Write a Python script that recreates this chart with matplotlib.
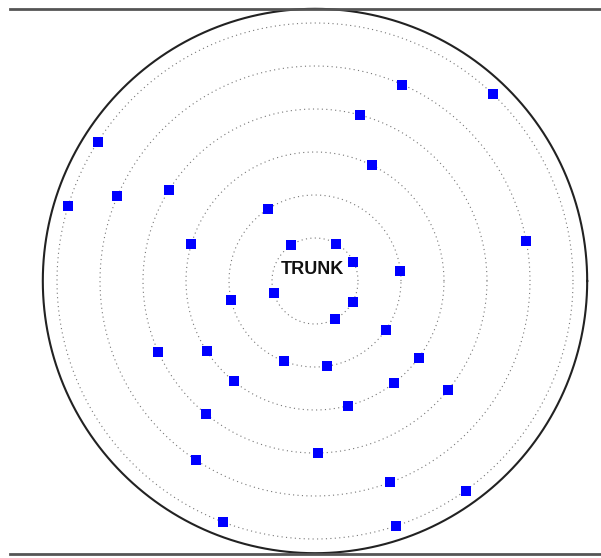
import numpy as np
import matplotlib
matplotlib.use('Agg')
import matplotlib.pyplot as plt

# ring index (1 = trunk ring) and angle in degrees for each blue square
ring_1 = [123.3, 60.3, 26.6, 195.6, 331.1, 297.7]
ring_2 = [123.5, 6.8, 192.9, 325.2, 248.9, 277.8]
ring_3 = [63.6, 163.4, 212.8, 323.5, 231.1, 307.8, 284.9]
ring_4 = [74.8, 148.1, 204.4, 320.7, 230.8, 271.0]
ring_5 = [66.0, 156.8, 10.6, 236.4, 290.5]
ring_6 = [46.4, 147.4, 163.2, 305.7, 249.1, 288.4]
ring_angles = [ring_1, ring_2, ring_3, ring_4, ring_5, ring_6]
ring_radii = [1, 2, 3, 4, 5, 6]
outer_radius = 6.33
label = 'TRUNK'


def main():
    fig = plt.figure(figsize=(6.01, 5.58), dpi=100)
    ax = fig.add_axes([0, 0, 1, 1])
    ax.set_xlim(-315 / 43, 286 / 43)
    ax.set_ylim(-277 / 43, 281 / 43)
    ax.axis('off')

    t = np.linspace(0, 2 * np.pi, 721)
    for r in ring_radii:
        ax.plot(r * np.cos(t), r * np.sin(t), color='#777777', lw=0.8,
                linestyle=(0, (1, 3)), zorder=1)
    ax.plot(outer_radius * np.cos(t), outer_radius * np.sin(t),
            color='#222222', lw=1.5, zorder=2)

    ax.axhline(outer_radius, xmin=10 / 601, xmax=1, color='#555555', lw=2)
    ax.axhline(-outer_radius - 0.02, xmin=10 / 601, xmax=1, color='#555555', lw=2)

    for r, angles in zip(ring_radii, ring_angles):
        a = np.radians(angles)
        ax.plot(r * np.cos(a), r * np.sin(a), 's', color='#0000ff',
                markersize=7, markeredgewidth=0, zorder=3)

    ax.text(-0.07, 0.26, label, ha='center', va='center', fontsize=13,
            fontweight='bold', family='Liberation Sans', color='#111111')

    fig.savefig('out.png', dpi=100)


if __name__ == '__main__':
    main()
